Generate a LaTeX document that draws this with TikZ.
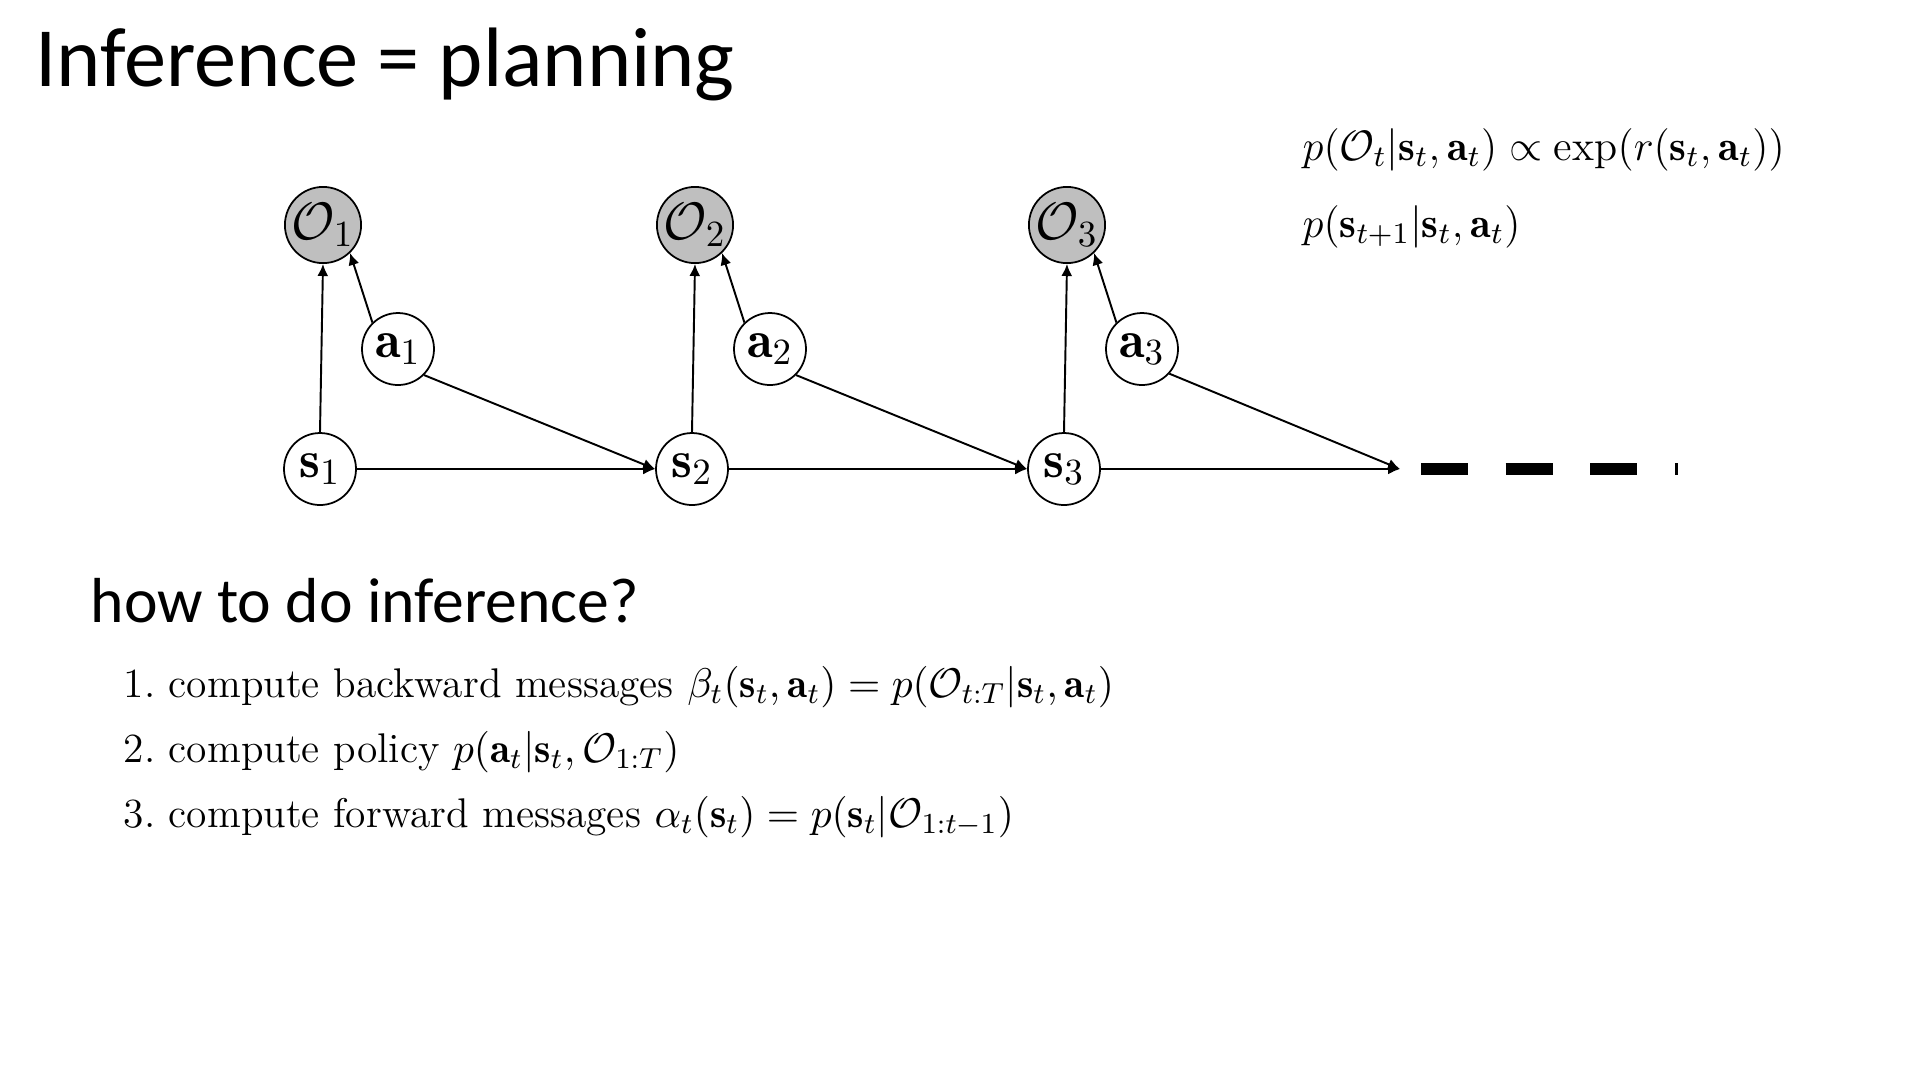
\documentclass[tikz,border=0pt]{standalone}
\usepackage{fix-cm}
\usepackage{fontspec}
\newfontfamily\calib{Carlito}
\usetikzlibrary{arrows.meta}
\begin{document}
\begin{tikzpicture}[x=0.1mm,y=-0.1mm,
  var/.style={circle,draw,line width=0.5pt,minimum size=7.2mm,inner sep=0pt,font=\fontsize{15}{17}\selectfont},
  obs/.style={var,fill=black!25},
  edge/.style={line width=0.55pt,-{Latex[length=1.2mm,width=1.1mm]}},
  txt/.style={inner sep=0pt,anchor=base west},
  eqfont/.style={font=\fontsize{12.1}{15}\selectfont},
  listfont/.style={font=\fontsize{11.8}{14}\selectfont},
  dashline/.style={line width=1.17mm,dash pattern=on 4.7mm off 3.76mm}
]
\useasboundingbox (0,0) rectangle (1920,1080);

\node[txt,font=\calib\fontsize{24}{28}\selectfont] (title) at (35,86) {Inference = planning};

\node[obs] (O1) at (323,225) {$\mathcal{O}_1$};
\node[obs] (O2) at (695,225) {$\mathcal{O}_2$};
\node[obs] (O3) at (1067,225) {$\mathcal{O}_3$};
\node[var] (a1) at (398,349) {$\mathbf{a}_1$};
\node[var] (a2) at (770,349) {$\mathbf{a}_2$};
\node[var] (a3) at (1142,349) {$\mathbf{a}_3$};
\node[var] (s1) at (320,469) {$\mathbf{s}_1$};
\node[var] (s2) at (692,469) {$\mathbf{s}_2$};
\node[var] (s3) at (1064,469) {$\mathbf{s}_3$};
\coordinate (s4) at (1400,469);
\coordinate (d0) at (1421,469);
\coordinate (d1) at (1678,469);

\foreach \i in {1,2,3}{
  \draw[edge] (s\i.north) -- (O\i.south);
  \draw[edge] (a\i.134) -- (O\i.-46);
}
\draw[edge] (s1.east) -- (s2.west);
\draw[edge] (s2.east) -- (s3.west);
\draw[edge] (s3.east) -- (s4);
\draw[edge] (a1.-45) -- (s2.west);
\draw[edge] (a2.-45) -- (s3.west);
\draw[edge] (a3.-42) -- (s4);
\draw[dashline] (d0) -- (d1);

\node[txt,eqfont] (eq1) at (1302,160) {$p(\mathcal{O}_t|\mathbf{s}_t,\mathbf{a}_t)\propto\exp(r(\mathbf{s}_t,\mathbf{a}_t))$};
\node[txt,eqfont] (eq2) at (1302,237) {$p(\mathbf{s}_{t+1}|\mathbf{s}_t,\mathbf{a}_t)$};

\node[txt,font=\calib\fontsize{18.1}{22}\selectfont] (head) at (90,622) {how to do inference?};

\node[txt,listfont] (l1) at (123,697.5) {1.\ compute backward messages $\beta_t(\mathbf{s}_t,\mathbf{a}_t)=p(\mathcal{O}_{t:T}|\mathbf{s}_t,\mathbf{a}_t)$};
\node[txt,listfont] (l2) at (123,762.5) {2.\ compute policy $p(\mathbf{a}_t|\mathbf{s}_t,\mathcal{O}_{1:T})$};
\node[txt,listfont] (l3) at (123,827.5) {3.\ compute forward messages $\alpha_t(\mathbf{s}_t)=p(\mathbf{s}_t|\mathcal{O}_{1:t-1})$};
\end{tikzpicture}
\end{document}
